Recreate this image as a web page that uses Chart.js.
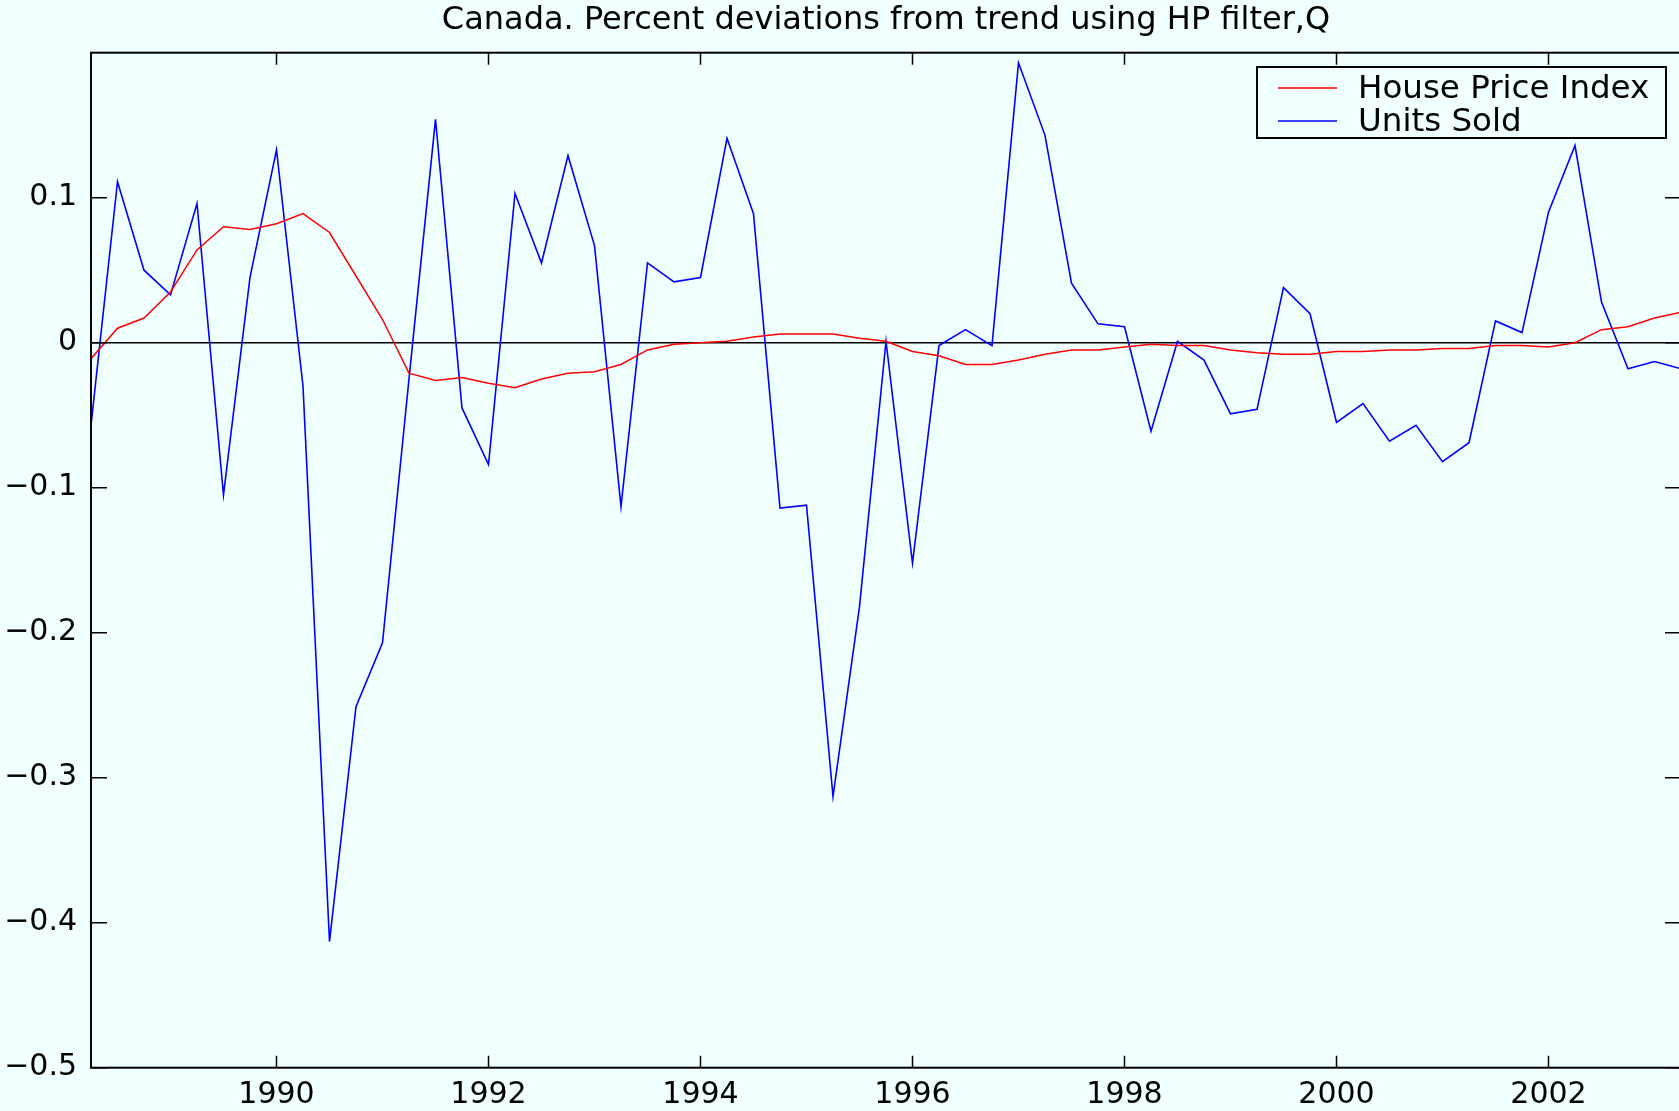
<!DOCTYPE html>
<html>
<head>
<meta charset="utf-8">
<script src="https://cdn.jsdelivr.net/npm/chart.js@4.4.1/dist/chart.umd.min.js"></script>
<style>
  html, body { margin: 0; padding: 0; background: #f0ffff; overflow: hidden; }
  .wrap { width: 1683px; height: 1111px; }
</style>
</head>
<body>
<div class="wrap"><canvas id="hp"></canvas></div>
<script>
// quarterly observations, first one is 1988 Q2
const quarterStart = 1988.25;

const housePrice = [
  -0.011, 0.010, 0.017, 0.035, 0.064, 0.080, 0.078, 0.082, 0.089, 0.076,
  0.046, 0.016, -0.021, -0.026, -0.024, -0.028, -0.031, -0.025, -0.021, -0.020,
  -0.015, -0.005, -0.001, 0.000, 0.001, 0.004, 0.006, 0.006, 0.006, 0.003,
  0.001, -0.006, -0.009, -0.015, -0.015, -0.012, -0.008, -0.005, -0.005, -0.003,
  -0.001, -0.002, -0.002, -0.005, -0.007, -0.008, -0.008, -0.006, -0.006, -0.005,
  -0.005, -0.004, -0.004, -0.002, -0.002, -0.003, 0.000, 0.009, 0.011, 0.017,
  0.021,
];

const unitsSold = [
  -0.057, 0.111, 0.050, 0.033, 0.096, -0.105, 0.045, 0.133, -0.030, -0.413,
  -0.251, -0.207, -0.025, 0.154, -0.045, -0.084, 0.103, 0.055, 0.129, 0.067,
  -0.113, 0.055, 0.042, 0.045, 0.141, 0.089, -0.114, -0.112, -0.313, -0.182,
  0.001, -0.152, -0.002, 0.009, -0.002, 0.193, 0.143, 0.041, 0.013, 0.011,
  -0.061, 0.001, -0.012, -0.049, -0.046, 0.038, 0.020, -0.055, -0.042, -0.068,
  -0.057, -0.082, -0.069, 0.015, 0.007, 0.090, 0.136, 0.028, -0.018, -0.013,
  -0.018,
];

const yearTicks = [1990, 1992, 1994, 1996, 1998, 2000, 2002];
const valueTicks = [-0.5, -0.4, -0.3, -0.2, -0.1, 0, 0.1];

const titleText = "Canada. Percent deviations from trend using HP filter,Q";

const toPoints = (arr) => arr.map((v, i) => ({ x: quarterStart + i / 4, y: v }));

const FONT = "DejaVu Sans";

// title centred over the axes, box round the axes, inward ticks, boxed legend
const frame = {
  id: "frame",
  afterDraw(chart) {
    const { ctx, chartArea: a, scales } = chart;
    ctx.save();

    ctx.fillStyle = "#000";
    ctx.font = `32px "${FONT}"`;
    ctx.textAlign = "center";
    ctx.textBaseline = "middle";
    ctx.fillText(titleText, (a.left + a.right) / 2, 21);
    ctx.textAlign = "left";

    ctx.strokeStyle = "#000";
    ctx.lineWidth = 2;
    ctx.strokeRect(a.left, a.top, a.right - a.left, a.bottom - a.top);

    ctx.lineWidth = 1.5;
    ctx.beginPath();
    yearTicks.forEach((v) => {
      const px = scales.x.getPixelForValue(v);
      ctx.moveTo(px, a.bottom);
      ctx.lineTo(px, a.bottom - 12);
      ctx.moveTo(px, a.top);
      ctx.lineTo(px, a.top + 12);
    });
    valueTicks.forEach((v) => {
      const py = scales.y.getPixelForValue(v);
      ctx.moveTo(a.left, py);
      ctx.lineTo(a.left + 16, py);
      ctx.moveTo(a.right, py);
      ctx.lineTo(a.right - 16, py);
    });
    ctx.stroke();

    // legend
    const lx = 1257, ly = 67, lw = 409, lh = 71;
    ctx.fillStyle = "#f0ffff";
    ctx.fillRect(lx, ly, lw, lh);
    ctx.lineWidth = 2;
    ctx.strokeRect(lx, ly, lw, lh);
    ctx.font = `32.5px "${FONT}"`;
    ctx.textBaseline = "middle";
    chart.data.datasets.forEach((ds, i) => {
      const yy = ly + 21 + i * 33;
      ctx.strokeStyle = ds.borderColor;
      ctx.lineWidth = 1.5;
      ctx.beginPath();
      ctx.moveTo(lx + 21, yy);
      ctx.lineTo(lx + 80, yy);
      ctx.stroke();
      ctx.fillStyle = "#000";
      ctx.fillText(ds.label, lx + 101, yy + 2);
    });
    ctx.restore();
  },
};

new Chart(document.getElementById("hp"), {
  type: "line",
  data: {
    datasets: [
      {
        label: "House Price Index",
        data: toPoints(housePrice),
        borderColor: "#ff0000",
        borderWidth: 1.5,
      },
      {
        label: "Units Sold",
        data: toPoints(unitsSold),
        borderColor: "#0000ff",
        borderWidth: 1.6,
      },
    ],
  },
  options: {
    responsive: true,
    maintainAspectRatio: false,
    animation: false,
    layout: { padding: { top: 52.7, right: 2, bottom: 0, left: 0 } },
    elements: { point: { radius: 0 }, line: { tension: 0 } },
    plugins: {
      legend: { display: false },
      tooltip: { enabled: false },
      title: { display: false },
    },
    scales: {
      x: {
        type: "linear",
        min: quarterStart,
        max: quarterStart + (unitsSold.length - 1) / 4,
        afterBuildTicks: (s) => { s.ticks = yearTicks.map((v) => ({ value: v })); },
        afterFit: (s) => { s.height = 43.3; },
        grid: { display: false },
        border: { display: false },
        ticks: {
          color: "#000",
          font: { family: FONT, size: 30 },
          padding: 2,
          maxRotation: 0,
          callback: (v) => String(v),
        },
      },
      y: {
        min: -0.5,
        max: 0.2,
        afterBuildTicks: (s) => { s.ticks = valueTicks.map((v) => ({ value: v })); },
        afterFit: (s) => { s.width = 91; },
        border: { display: false },
        grid: {
          drawTicks: false,
          lineWidth: 1.5,
          color: (c) => (Math.abs(c.tick.value) < 1e-9 ? "#000" : "rgba(0,0,0,0)"),
        },
        ticks: {
          color: "#000",
          font: { family: FONT, size: 30 },
          padding: 14,
          callback: (v) => (Math.abs(v) < 1e-9 ? "0" : (v < 0 ? "\u2212" : "") + Math.abs(v).toFixed(1)),
        },
      },
    },
  },
  plugins: [frame],
});
</script>
</body>
</html>
